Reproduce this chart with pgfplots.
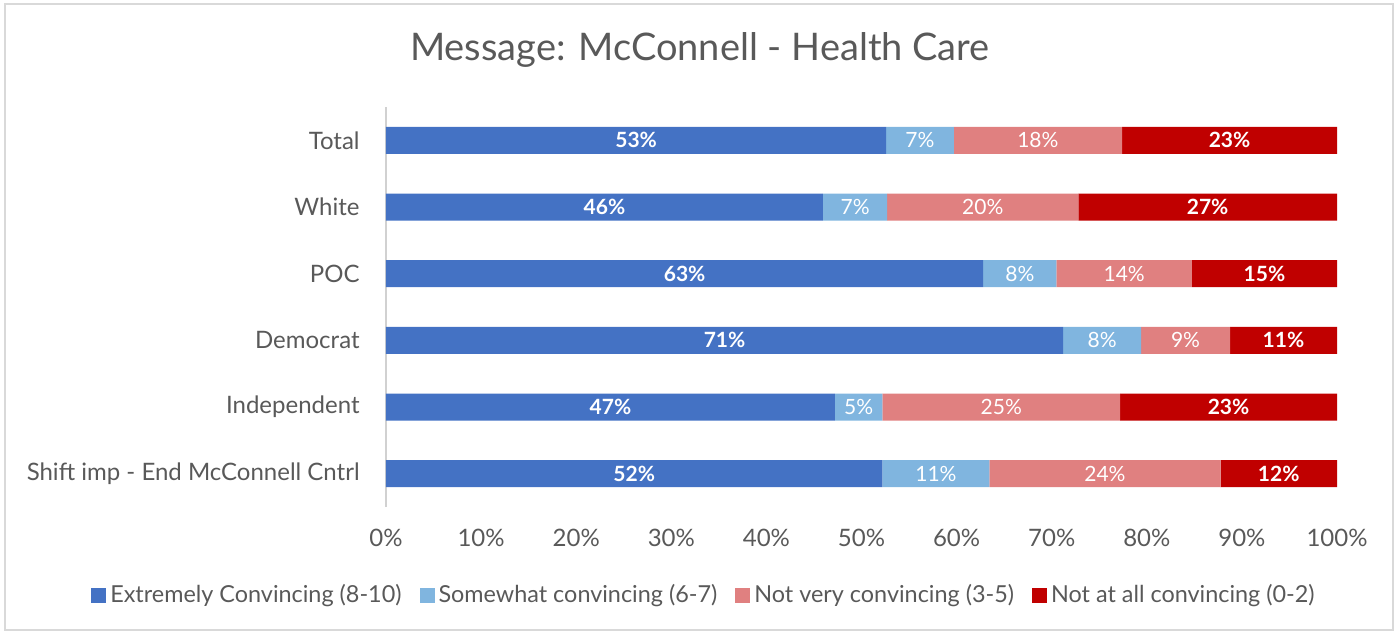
\documentclass[border=0pt]{standalone}
\usepackage{pgfplots}
\pgfplotsset{compat=1.18}
\usepackage{pgfplotstable}
\usepackage{fontspec}
\setmainfont{Lato}
\definecolor{txt}{HTML}{595959}
\definecolor{cA}{HTML}{4472C4}
\definecolor{cB}{HTML}{80B5DF}
\definecolor{cC}{HTML}{E08080}
\definecolor{cD}{HTML}{C00000}
% y: 5 = Total (top) ... 0 = Shift imp (bottom)
\pgfplotstableread{
y a b c d la lb lc ld
5 52.6 7.1 17.7 22.6 53 7 18 23
4 45.95 6.75 20.1 27.2 46 7 20 27
3 62.8 7.7 14.25 15.25 63 8 14 15
2 71.2 8.2 9.35 11.25 71 8 9 11
1 47.2 5.0 25.0 22.8 47 5 25 23
0 52.2 11.25 24.3 12.25 52 11 24 12
}\data
\begin{document}
\begin{tikzpicture}
\path[use as bounding box] (0pt,0pt) rectangle (699pt,317pt);
\draw[black!15, line width=0.8pt] (2.5pt,2pt) rectangle (696.5pt,315pt);
\node[text=txt, font=\fontsize{19}{22}\selectfont] at (350pt,292pt) {Message: McConnell - Health Care};
\begin{axis}[
  at={(193pt,63.5pt)}, anchor=south west,
  scale only axis, width=475.5pt, height=200pt,
  xbar stacked, bar width=13.5pt,
  xmin=0, xmax=100, ymin=-0.5, ymax=5.5,
  ytick={0,...,5},
  yticklabels={{Shift imp - End McConnell Cntrl},Independent,Democrat,POC,White,Total},
  xtick={0,10,...,100},
  xticklabel={\pgfmathprintnumber[assume math mode=true]{\tick}\%},
  major tick length=0pt,
  axis lines=left,
  x axis line style={draw=none},
  y axis line style={draw=black!18, line width=0.8pt, -},
  tick label style={text=txt, font=\fontsize{12}{14}\selectfont, inner sep=0pt},
  yticklabel shift=13pt,
  xticklabel shift=11pt,
  point meta=explicit symbolic,
  nodes near coords={\pgfplotspointmeta\%},
  legend style={at={(0.3354,-0.22)}, anchor=center, draw=none, fill=none,
    legend columns=4, font=\fontsize{11.7}{13}\selectfont, text=txt,
    /tikz/every even column/.append style={column sep=7pt},
    inner sep=0pt},
  legend image code/.code={\fill[#1] (0pt,-3.75pt) rectangle (7.5pt,3.75pt);},
]
\addplot[fill=cA, draw=none,
  every node near coord/.append style={font=\fontsize{10.5}{12}\selectfont\bfseries, text=white, anchor=center}]
  table[x=a, y=y, meta=la]{\data};
\addplot[fill=cB, draw=none,
  every node near coord/.append style={font=\fontsize{10.5}{12}\selectfont, text=white, anchor=center}]
  table[x=b, y=y, meta=lb]{\data};
\addplot[fill=cC, draw=none,
  every node near coord/.append style={font=\fontsize{10.5}{12}\selectfont, text=white, anchor=center}]
  table[x=c, y=y, meta=lc]{\data};
\addplot[fill=cD, draw=none,
  every node near coord/.append style={font=\fontsize{10.5}{12}\selectfont\bfseries, text=white, anchor=center}]
  table[x=d, y=y, meta=ld]{\data};
\legend{Extremely Convincing (8-10),Somewhat convincing (6-7),Not very convincing (3-5),Not at all convincing (0-2)}
\end{axis}
\end{tikzpicture}
\end{document}
